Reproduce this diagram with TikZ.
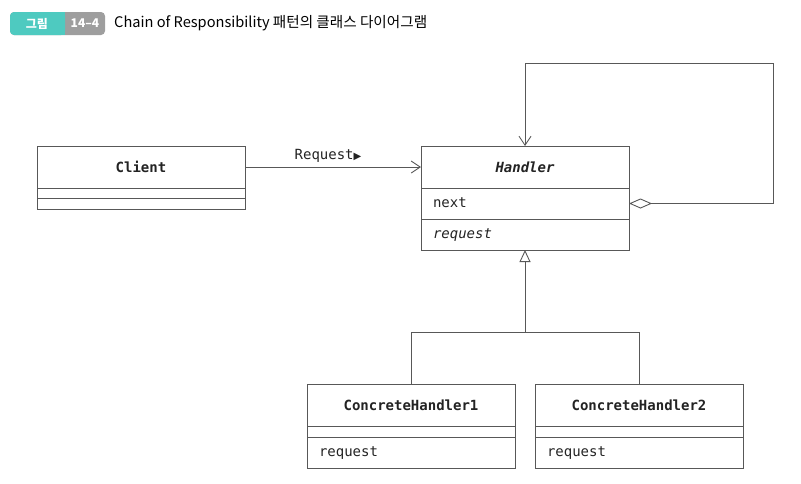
\documentclass[tikz,border=0pt]{standalone}
\usepackage{fontspec}
\setmonofont{DejaVu Sans Mono}
\newfontfamily\krfont{Noto Sans CJK KR}
\newfontfamily\symfont{DejaVu Sans}
\usetikzlibrary{positioning}
\usetikzlibrary{arrows.meta}
\definecolor{tagteal}{RGB}{78,202,192}
\definecolor{taggray}{RGB}{158,158,158}
\definecolor{umlline}{RGB}{88,88,88}
\definecolor{umltext}{RGB}{35,35,35}
\tikzset{
  namebox/.style={draw=umlline, line width=0.9pt, minimum width=208pt, minimum height=42pt,
    inner sep=0pt, outer sep=0pt, text=umltext, font=\ttfamily\bfseries\fontsize{14}{16}\selectfont},
  emptybox/.style={draw=umlline, line width=0.9pt, minimum width=208pt, minimum height=10.5pt,
    inner sep=0pt, outer sep=0pt},
  membox/.style={draw=umlline, line width=0.9pt, text width=184pt, minimum height=31pt,
    text height=11pt, text depth=3pt,
    inner xsep=12pt, inner ysep=0pt, outer sep=0pt, align=left, text=umltext,
    font=\ttfamily\fontsize{14}{16}\selectfont},
  conn/.style={draw=umlline, line width=0.9pt, line join=miter},
}

\begin{document}
\begin{tikzpicture}[x=1pt,y=-1pt]
        \useasboundingbox (0,0) rectangle (801,483);

        \coordinate (loopcorner) at (773,63);
        \coordinate (split) at (525,332);

        \fill[taggray, rounded corners=4pt] (10,12) rectangle (105,35);
        \fill[tagteal, rounded corners=4pt] (10,12) rectangle (65,35);
        \fill[tagteal] (55,12) rectangle (65,35);
        \node[text=white, font=\krfont\bfseries\fontsize{12}{14}\selectfont] (tagword) at (37,23.5) {그림};
        \node[text=white, font=\krfont\bfseries\fontsize{12}{14}\selectfont] (tagnum) at (85,23.5) {14–4};
        \node[anchor=west, inner sep=0pt, text=black, font=\krfont\fontsize{14.6}{16}\selectfont] (title) at (114,23.5)
            {Chain of Responsibility 패턴의 클래스 다이어그램};

        \node[namebox] (client) at (141,167) {Client};
        \node[emptybox, below=0pt of client] (client-attr) {};
        \node[emptybox, below=0pt of client-attr] (client-ops) {};

        \node[namebox] (handler) at (525,167) {\itshape Handler};
        \node[membox, below=0pt of handler] (handler-next) {next};
        \node[membox, below=0pt of handler-next] (handler-req) {\itshape request};

        \node[namebox] (ch1) at (411,405.5) {ConcreteHandler1};
        \node[emptybox, below=0pt of ch1] (ch1-attr) {};
        \node[membox, below=0pt of ch1-attr] (ch1-req) {request};

        \node[namebox] (ch2) at (639,405.5) {ConcreteHandler2};
        \node[emptybox, below=0pt of ch2] (ch2-attr) {};
        \node[membox, below=0pt of ch2-attr] (ch2-req) {request};

        \draw[conn, -{Straight Barb[length=9pt,width=12pt,line width=0.9pt]}] (client) --
            node[above=1pt, xshift=-5pt, text=umltext, font=\ttfamily\fontsize{14}{16}\selectfont] (reqlabel)
            {Request\symfont\fontsize{10}{12}\selectfont▶} (handler);

        \draw[conn, {Diamond[open,length=23pt,width=10pt,fill=white]}-{Straight Barb[length=9pt,width=12pt,line width=0.9pt]}]
            (handler-next.east) -| (loopcorner) -| (handler.north);

        \draw[conn, -{Triangle[open,length=12pt,width=11pt,fill=white]}] (split) -- (handler-req.south);
        \draw[conn] (split) -| (ch1.north);
        \draw[conn] (split) -| (ch2.north);

    \end{tikzpicture}
\end{document}
